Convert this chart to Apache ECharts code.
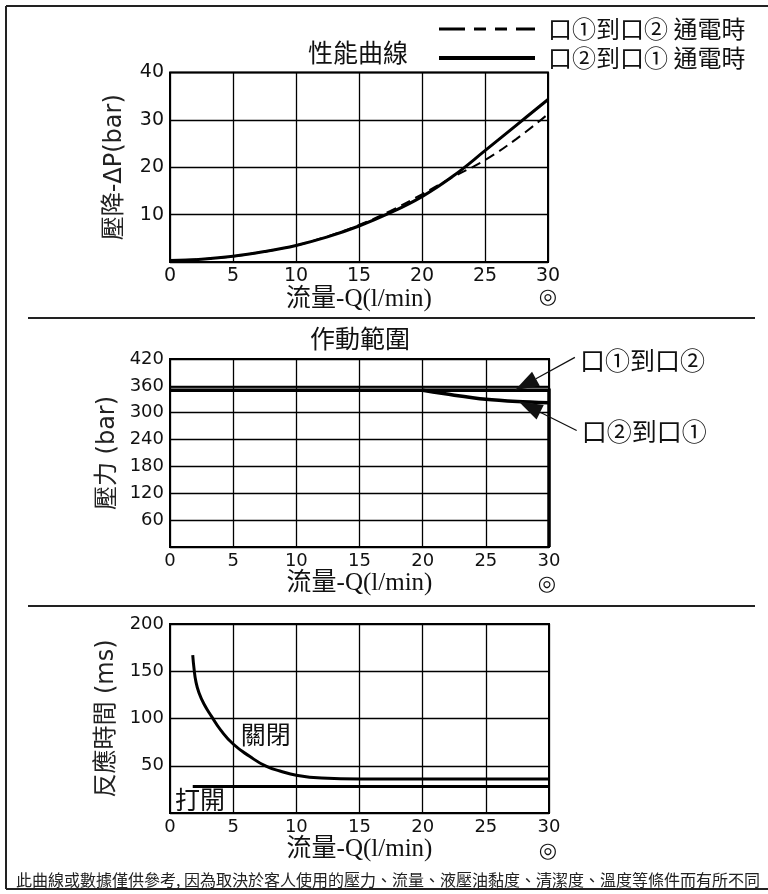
<!DOCTYPE html>
<html><head><meta charset="utf-8">
<script src="https://cdn.jsdelivr.net/npm/echarts@6/dist/echarts.min.js"></script>
<style>html,body{margin:0;padding:0;background:#fff}#c{width:768px;height:894px}</style>
</head><body><div id="c"></div>
<script>
// ---------- data ----------
// Top chart: pressure drop vs flow
const flowTop = [0, 2.5, 5, 7.5, 10, 12.5, 15, 17.5, 20, 22.5, 25, 27.5, 30];
const dp12 = [0.3, 0.6, 1.2, 2.2, 3.5, 5.4, 7.8, 10.8, 14.3, 18.0, 21.5, 26.0, 31.2];
const dp21 = [0.3, 0.6, 1.2, 2.2, 3.5, 5.3, 7.6, 10.4, 13.8, 18.2, 23.5, 28.9, 34.3];
const name12 = '口①到口② 通電時';
const name21 = '口②到口① 通電時';
// Middle chart: operating range
const flowRange12 = [0, 30, 30];
const pres12 = [350, 350, 0];
const flowEdge12 = [0, 30];
const presEdge12 = [356, 356];
const flowRange21 = [20, 22.5, 25, 27.5, 30];
const pres21 = [350, 339, 330, 325, 322];
// Bottom chart: response time
const flowClose = [1.8, 1.9, 2.05, 2.3, 2.7, 3.3, 4, 5, 6.3, 7.6, 8.7, 10, 12, 15, 30];
const timeClose = [167, 153, 139, 127, 115, 102, 88, 73, 60, 49.5, 44.5, 40, 37, 36, 36];
const flowOpen = [1.8, 30];
const timeOpen = [28, 28];
// axes
const xRange = { min: 0, max: 30, interval: 5 };
const yTop = { min: 0, max: 40, interval: 10 };
const yMid = { min: 0, max: 420, interval: 60 };
const yBot = { min: 0, max: 200, interval: 50 };

// ---------- helpers ----------
const SANS = "'DejaVu Sans','Noto Sans CJK TC',sans-serif";
const CJK = "'Noto Sans CJK TC','DejaVu Sans',sans-serif";
const SERIF = "'Liberation Serif','Noto Sans CJK TC',serif";
const INK = '#111';
const pts = (xs, ys) => xs.map((x, i) => [x, ys[i]]);

function xAxisCfg(gi, labelSize, nameGap) {
  return {
    type: 'value', gridIndex: gi, min: xRange.min, max: xRange.max, interval: xRange.interval,
    name: '流量-Q(l/min)', nameLocation: 'middle', nameGap: nameGap,
    nameTextStyle: { fontFamily: SERIF, fontSize: 25, color: INK },
    axisLine: { show: false }, axisTick: { show: false },
    axisLabel: { fontFamily: SANS, fontSize: labelSize, color: INK, margin: 5 },
    splitLine: { show: true, lineStyle: { color: '#000', width: 1.3 } }
  };
}
function yAxisCfg(gi, r, name, nameGap, labelSize, nameSize) {
  return {
    type: 'value', gridIndex: gi, min: r.min, max: r.max, interval: r.interval,
    name: name, nameLocation: 'middle', nameGap: nameGap,
    nameTextStyle: { fontFamily: SANS, fontSize: nameSize, color: '#222' },
    axisLine: { show: false }, axisTick: { show: false },
    axisLabel: { fontFamily: SANS, fontSize: labelSize, color: INK, margin: 6,
      formatter: v => (v === 0 ? '' : String(v)) },
    splitLine: { show: true, lineStyle: { color: '#000', width: 1.3 } }
  };
}

const chart = echarts.init(document.getElementById('c'), null, { renderer: 'canvas' });
const gridBase = { show: true, borderColor: '#000', borderWidth: 2, backgroundColor: 'transparent', containLabel: false };

// legend icons: dashed / solid strokes
const iconDashed = 'path://M0,0.5h26v3h-26z M35,0.5h12v3h-12z M56,0.5h12v3h-12z M77,0.5h19v3h-19z M0,0h0.01v4h-0.01z';
const iconSolid = 'path://M0,0h96v4h-96z';

chart.setOption({
  backgroundColor: '#fff',
  animation: false,
  grid: [
    Object.assign({ left: 170, top: 72.5, width: 378, height: 189.5 }, gridBase),
    Object.assign({ left: 170, top: 359, width: 379, height: 188 }, gridBase),
    Object.assign({ left: 170, top: 624, width: 379, height: 189 }, gridBase)
  ],
  xAxis: [xAxisCfg(0, 19, 22), xAxisCfg(1, 18, 23), xAxisCfg(2, 18, 24)],
  yAxis: [
    yAxisCfg(0, yTop, '壓降-ΔP(bar)', 43, 19, 24),
    yAxisCfg(1, yMid, '壓力 (bar)', 50, 18, 24),
    yAxisCfg(2, yBot, '反應時間 (ms)', 51, 18, 24)
  ],
  legend: {
    orient: 'vertical', left: 434, top: 11, itemWidth: 96, itemHeight: 4, itemGap: 3,
    symbolKeepAspect: false,
    data: [
      { name: name12, icon: iconDashed, itemStyle: { color: '#000' } },
      { name: name21, icon: iconSolid, itemStyle: { color: '#000' } }
    ],
    textStyle: { fontFamily: CJK, fontSize: 24, color: INK, lineHeight: 26, padding: [0, 0, 0, 8] },
    selectedMode: false
  },
  series: [
    { name: name12, type: 'line', xAxisIndex: 0, yAxisIndex: 0, data: pts(flowTop, dp12),
      smooth: 0.4, symbol: 'none', lineStyle: { color: '#000', width: 2, type: [10, 6] }, itemStyle: { color: '#000' }, z: 4 },
    { name: name21, type: 'line', xAxisIndex: 0, yAxisIndex: 0, data: pts(flowTop, dp21),
      smooth: 0.4, symbol: 'none', lineStyle: { color: '#000', width: 3 }, itemStyle: { color: '#000' }, z: 3 },
    { name: 'range12', type: 'line', xAxisIndex: 1, yAxisIndex: 1, data: pts(flowRange12, pres12),
      symbol: 'none', lineStyle: { color: '#000', width: 3.5, join: 'miter' }, z: 4 },
    { name: 'range12edge', type: 'line', xAxisIndex: 1, yAxisIndex: 1, data: pts(flowEdge12, presEdge12),
      symbol: 'none', lineStyle: { color: '#000', width: 1 }, z: 3 },
    { name: 'range21', type: 'line', xAxisIndex: 1, yAxisIndex: 1, data: pts(flowRange21, pres21),
      smooth: 0.3, symbol: 'none', lineStyle: { color: '#000', width: 3.5 }, z: 4 },
    { name: 'close', type: 'line', xAxisIndex: 2, yAxisIndex: 2, data: pts(flowClose, timeClose),
      smooth: 0.5, symbol: 'none', lineStyle: { color: '#000', width: 3 }, z: 4 },
    { name: 'open', type: 'line', xAxisIndex: 2, yAxisIndex: 2, data: pts(flowOpen, timeOpen),
      symbol: 'none', lineStyle: { color: '#000', width: 3 }, z: 4 }
  ]
});

// ---------- annotations ----------
function txt(text, x, y, size, family, align, weight) {
  return { type: 'text', silent: true, z: 10,
    style: { text: text, x: x, y: y, fontSize: size, fontFamily: family, fontWeight: weight || 'normal', fill: INK,
      align: align || 'left', verticalAlign: 'middle', textAlign: align || 'left', textVerticalAlign: 'middle' } };
}
function ln(x1, y1, x2, y2, w) {
  return { type: 'line', silent: true, z: 10, shape: { x1, y1, x2, y2 }, style: { stroke: '#222', lineWidth: w || 1.6 } };
}
function arrow(tip, dx, dy) {
  const tail = [tip[0] + dx, tip[1] + dy];
  const len = Math.hypot(dx, dy), ux = dx / len, uy = dy / len;
  const L = 24, W = 8;
  const base = [tip[0] + ux * L, tip[1] + uy * L];
  const nx = -uy, ny = ux;
  return [
    { type: 'line', silent: true, z: 10, shape: { x1: tail[0], y1: tail[1], x2: base[0], y2: base[1] }, style: { stroke: '#111', lineWidth: 1.3 } },
    { type: 'polygon', silent: true, z: 10, shape: { points: [tip, [base[0] + nx * W, base[1] + ny * W], [base[0] - nx * W, base[1] - ny * W]] }, style: { fill: '#111' } }
  ];
}

const tipA = chart.convertToPixel({ gridIndex: 1 }, [27.3, 350]);
const tipB = chart.convertToPixel({ gridIndex: 1 }, [27.6, 325]);
const closeLbl = chart.convertToPixel({ gridIndex: 2 }, [5.6, 83]);
const openLbl = chart.convertToPixel({ gridIndex: 2 }, [0.4, 14]);

const footerText = '此曲線或數據僅供參考, 因為取決於客人使用的壓力、流量、液壓油黏度、清潔度、溫度等條件而有所不同';
const footer = txt(footerText, 16, 880, 16, CJK, 'left');
footer.style.fill = '#222';

const graphics = [
  // frame and separators
  ln(6, 6, 768, 6, 2), ln(6, 6, 6, 889, 2), ln(6, 889, 768, 889, 2),
  ln(28, 318, 755, 318, 2), ln(28, 606, 755, 606, 2),
  // titles
  txt('性能曲線', 308, 52, 25, CJK),
  txt('作動範圍', 360, 338, 25, CJK, 'center'),
  // flow marks
  txt('◎', 548, 298, 21, SANS, 'center', 'bold'),
  txt('◎', 547, 585, 21, SANS, 'center', 'bold'),
  txt('◎', 548, 852, 21, SANS, 'center', 'bold'),
  // middle chart labels
  txt('口①到口②', tipA[0] + 65, tipA[1] - 30, 25, CJK),
  txt('口②到口①', tipB[0] + 63, tipB[1] + 30, 25, CJK),
  // bottom chart labels
  txt('關閉', closeLbl[0], closeLbl[1], 25, CJK),
  txt('打開', openLbl[0], openLbl[1], 25, CJK),
  footer
].concat(arrow(tipA, 60, -33), arrow(tipB, 58, 29));

chart.setOption({ graphic: { elements: graphics } });
</script>
</body></html>
